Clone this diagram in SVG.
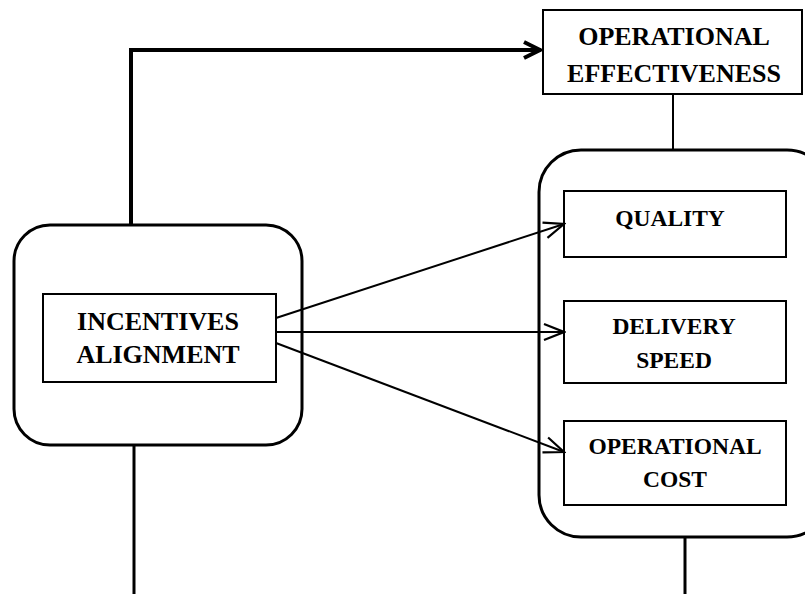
<svg xmlns="http://www.w3.org/2000/svg" width="805" height="594" viewBox="0 0 805 594">
<style>
.box{fill:#fff;stroke:#000;stroke-width:2}
.round{fill:#fff;stroke:#000;stroke-width:3}
.ln{fill:none;stroke:#000;stroke-width:2}
.big{font-family:"Liberation Serif","Times New Roman",serif;font-weight:bold;font-size:26px;text-anchor:middle;fill:#000}
.sm{font-family:"Liberation Serif","Times New Roman",serif;font-weight:bold;font-size:23.5px;text-anchor:middle;fill:#000}
</style>
<defs>
<marker id="ah" markerUnits="userSpaceOnUse" markerWidth="24" markerHeight="20" refX="22" refY="10" orient="auto" viewBox="0 0 24 20">
<path d="M2,2 L22,10 L2,18" fill="none" stroke="#000" stroke-width="2.2"/>
</marker>
<marker id="ahb" markerUnits="userSpaceOnUse" markerWidth="24" markerHeight="24" refX="21" refY="12" orient="auto" viewBox="0 0 24 24">
<path d="M4,4 L20,12 L4,20" fill="none" stroke="#000" stroke-width="4"/>
</marker>
</defs>
<g id="connectors">
<path class="ln" d="M131,225 V50 H541" stroke-width="4" style="stroke-width:4" marker-end="url(#ahb)"/>
<line class="ln" x1="673" y1="95" x2="673" y2="150"/>
<line class="ln" x1="134" y1="445" x2="134" y2="594" style="stroke-width:3"/>
<line class="ln" x1="685" y1="537" x2="685" y2="594" style="stroke-width:3"/>
</g>
<g id="left-group">
<rect class="round" x="14" y="225" width="288" height="220" rx="36" ry="36"/>
</g>
<g id="right-group">
<rect class="round" x="539" y="150" width="290" height="387" rx="42" ry="42"/>
</g>
<g id="operational-effectiveness">
<rect class="box" x="543" y="10" width="259" height="84"/>
<text class="big" x="674" y="45">OPERATIONAL</text>
<text class="big" x="674" y="82">EFFECTIVENESS</text>
</g>
<g id="incentives-alignment">
<rect class="box" x="43" y="294" width="233" height="88"/>
<text class="big" x="158" y="330">INCENTIVES</text>
<text class="big" x="158" y="363">ALIGNMENT</text>
</g>
<g id="quality">
<rect class="box" x="564" y="191" width="222" height="66"/>
<text class="sm" x="670" y="226">QUALITY</text>
</g>
<g id="delivery-speed">
<rect class="box" x="564" y="301" width="222" height="82"/>
<text class="sm" x="674" y="334">DELIVERY</text>
<text class="sm" x="674" y="368">SPEED</text>
</g>
<g id="operational-cost">
<rect class="box" x="564" y="421" width="222" height="84"/>
<text class="sm" x="675" y="454">OPERATIONAL</text>
<text class="sm" x="675" y="487">COST</text>
</g>
<g id="arrows">
<line class="ln" x1="276" y1="318" x2="564" y2="224" marker-end="url(#ah)"/>
<line class="ln" x1="276" y1="332" x2="564" y2="332" marker-end="url(#ah)"/>
<line class="ln" x1="276" y1="343" x2="564" y2="452" marker-end="url(#ah)"/>
</g>
</svg>
